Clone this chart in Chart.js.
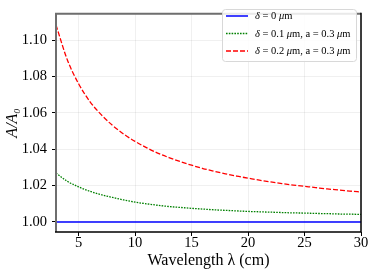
<!DOCTYPE html>
<html>
<head>
<meta charset="utf-8">
<script src="https://cdn.jsdelivr.net/npm/chart.js@4/dist/chart.umd.min.js"></script>
<style>
  html, body { margin: 0; padding: 0; background: #fff; }
  #wrap { width: 374px; height: 275px; }
</style>
</head>
<body>
<div id="wrap"><canvas id="chart" width="374" height="275"></canvas></div>
<script>
// Data
const wavelength = [3, 4, 5, 6, 7, 8, 9, 10, 11, 12, 13, 14, 15, 16, 17, 18, 19, 20, 21, 22, 23, 24, 25, 26, 27, 28, 29, 30];
const ratioDelta0 = [1, 1, 1, 1, 1, 1, 1, 1, 1, 1, 1, 1, 1, 1, 1, 1, 1, 1, 1, 1, 1, 1, 1, 1, 1, 1, 1, 1];
const ratioDelta01 = [1.0269, 1.0224, 1.0193, 1.0169, 1.0150, 1.0135, 1.0121, 1.0109, 1.0100, 1.0092, 1.0085, 1.0080, 1.0075, 1.0071,
  1.0067, 1.0064, 1.0061, 1.0058, 1.0056, 1.0054, 1.0052, 1.0050, 1.0049, 1.0047, 1.0046, 1.0044, 1.0043, 1.0042];
const ratioDelta02 = [1.1083, 1.0892, 1.0760, 1.0662, 1.0590, 1.0531, 1.0483, 1.0443, 1.0409, 1.0379, 1.0354, 1.0332, 1.0312, 1.0294,
  1.0279, 1.0265, 1.0252, 1.0241, 1.0230, 1.0220, 1.0211, 1.0203, 1.0196, 1.0189, 1.0182, 1.0176, 1.0170, 1.0165];
const seriesLabels = ['δ = 0 μm', 'δ = 0.1 μm, a = 0.3 μm', 'δ = 0.2 μm, a = 0.3 μm'];
const xTicks = [5, 10, 15, 20, 25, 30];
const yTicks = [1.00, 1.02, 1.04, 1.06, 1.08, 1.10];

const serif = '"Liberation Serif", "Times New Roman", serif';

const toPoints = (ys) => wavelength.map((x, i) => ({ x: x, y: ys[i] }));

// draws text, Greek letters in italic
const drawMixed = (ctx, text, x, y, size) => {
  let cx = x;
  for (const ch of text) {
    ctx.font = (/[δμ]/.test(ch) ? 'italic ' : '') + size + 'px ' + serif;
    ctx.fillText(ch, cx, y);
    cx += ctx.measureText(ch).width;
  }
};

const framePlugin = {
  id: 'frame',
  afterDraw(chart) {
    const { ctx, chartArea: a } = chart;
    ctx.save();
    ctx.strokeStyle = '#6e6e6e';
    ctx.lineWidth = 2;
    ctx.beginPath();
    ctx.moveTo(a.left, a.bottom);
    ctx.lineTo(a.left, a.top);
    ctx.lineTo(a.right, a.top);
    ctx.stroke();
    ctx.strokeStyle = '#000';
    ctx.lineWidth = 1.5;
    ctx.beginPath();
    ctx.moveTo(a.left - 1, a.bottom);
    ctx.lineTo(a.right, a.bottom);
    ctx.lineTo(a.right, a.top - 1);
    ctx.stroke();
    ctx.restore();
  }
};

const legendPlugin = {
  id: 'boxLegend',
  afterDraw(chart) {
    const { ctx } = chart;
    const x0 = 222, y0 = 9, w = 134, h = 52;
    ctx.save();
    ctx.fillStyle = 'rgba(255,255,255,0.85)';
    ctx.strokeStyle = '#d8d8d8';
    ctx.lineWidth = 1;
    ctx.beginPath();
    ctx.roundRect(x0 + 0.5, y0 + 0.5, w, h, 3);
    ctx.fill();
    ctx.stroke();
    chart.data.datasets.forEach((ds, i) => {
      const y = 16 + i * 17.5;
      ctx.strokeStyle = ds.borderColor;
      ctx.lineWidth = ds.borderWidth;
      ctx.setLineDash(ds.borderDash || []);
      ctx.beginPath();
      ctx.moveTo(226, y);
      ctx.lineTo(248, y);
      ctx.stroke();
      ctx.setLineDash([]);
      ctx.fillStyle = '#000';
      ctx.textBaseline = 'middle';
      drawMixed(ctx, seriesLabels[i], 255, y + 0.5, 10.5);
    });
    ctx.restore();
  }
};

new Chart(document.getElementById('chart'), {
  type: 'line',
  data: {
    datasets: [
      { label: seriesLabels[0], data: toPoints(ratioDelta0), borderColor: '#0000ff', borderWidth: 1.5 },
      { label: seriesLabels[1], data: toPoints(ratioDelta01), borderColor: '#008000', borderWidth: 1.3, borderDash: [1.6, 1.2] },
      { label: seriesLabels[2], data: toPoints(ratioDelta02), borderColor: '#ff0000', borderWidth: 1.3, borderDash: [5, 2] }
    ]
  },
  options: {
    responsive: false,
    animation: false,
    layout: { padding: { top: 4, right: 13, left: 0, bottom: 0 } },
    elements: {
      point: { radius: 0 },
      line: { cubicInterpolationMode: 'monotone', fill: false }
    },
    plugins: {
      legend: { display: false },
      tooltip: { enabled: false }
    },
    scales: {
      x: {
        type: 'linear',
        min: 3,
        max: 30,
        afterFit: (s) => { s.height = 43; },
        afterBuildTicks: (s) => { s.ticks = xTicks.map(v => ({ value: v })); },
        grid: { color: 'rgba(0,0,0,0.06)', tickColor: '#000', tickLength: 4 },
        border: { display: false },
        ticks: { color: '#000', padding: -2, maxRotation: 0, font: { family: serif, size: 14.5 } },
        title: {
          display: true,
          text: 'Wavelength λ (cm)',
          color: '#000',
          font: { family: serif, size: 16 },
          padding: { top: 0, bottom: 5 }
        }
      },
      y: {
        min: 0.9945,
        max: 1.1145,
        afterFit: (s) => { s.width = 56; },
        afterBuildTicks: (s) => { s.ticks = yTicks.map(v => ({ value: v })); },
        grid: { color: 'rgba(0,0,0,0.06)', tickColor: '#000', tickLength: 4 },
        border: { display: false },
        ticks: {
          color: '#000',
          padding: 5,
          font: { family: serif, size: 14.5 },
          callback: (v) => v.toFixed(2)
        },
        title: {
          display: true,
          text: 'A/A₀',
          color: '#000',
          font: { family: serif, size: 16, style: 'italic' },
          padding: { top: 3, bottom: 0 }
        }
      }
    }
  },
  plugins: [framePlugin, legendPlugin]
});
</script>
</body>
</html>
